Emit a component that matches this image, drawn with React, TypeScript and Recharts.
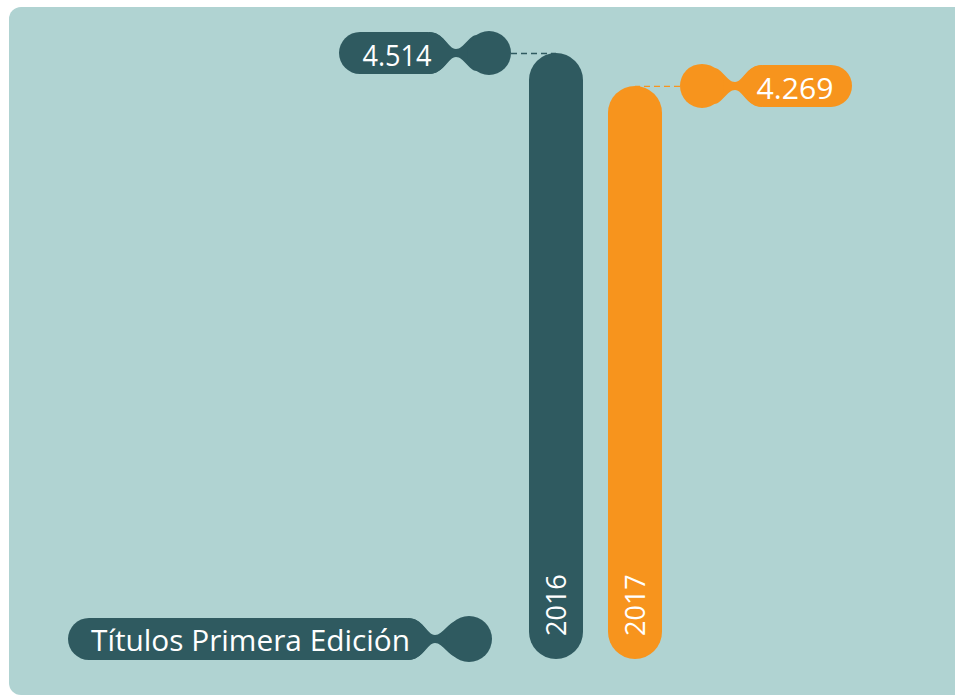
import React from 'react';
import { BarChart, Bar, XAxis, YAxis, Cell, LabelList } from 'recharts';

// valores
const years = ['2016', '2017'];
const titles = [4514, 4269];
const barColors = ['#2f5a60', '#f7941d'];
const seriesName = 'Títulos Primera Edición';

const data = years.map((year, i) => ({ year, value: titles[i] }));

const PANEL = '#b0d3d2';
const FONT = '"Open Sans", sans-serif';

const fmt = (v: number) => String(v).replace(/\B(?=(\d{3})+(?!\d))/g, '.');

// pastilla + cuello + círculo (s = lado hacia donde va la pastilla)
const Bubble = ({ cc, cy, s, pillLen, r, color }: any) => {
  const h2 = 21;
  const near = cc + s * (r + 18);
  const far = near + s * pillLen;
  const a = near + s * 20;
  const w = cc + s * (r + 11);
  const b = cc + s * 12;
  const d = [
    `M ${a} ${cy - h2}`,
    `C ${a - s * 15} ${cy - h2} ${w + s * 8} ${cy - 4} ${w} ${cy - 4}`,
    `C ${w - s * 8} ${cy - 4} ${b + s * 8} ${cy - h2 + 3} ${b} ${cy - h2 + 3}`,
    `L ${b} ${cy + h2 - 3}`,
    `C ${b + s * 8} ${cy + h2 - 3} ${w - s * 8} ${cy + 4} ${w} ${cy + 4}`,
    `C ${w + s * 8} ${cy + 4} ${a - s * 15} ${cy + h2} ${a} ${cy + h2}`,
    'Z',
  ].join(' ');
  return (
    <g>
      <rect x={Math.min(near, far)} y={cy - h2} width={pillLen} height={h2 * 2} rx={h2} fill={color} />
      <path d={d} fill={color} />
      <circle cx={cc} cy={cy} r={r} fill={color} />
    </g>
  );
};

const ValueLabel = (props: any) => {
  const { x, y, width, value, index } = props;
  const cx = x + width / 2;
  const s = index === 0 ? -1 : 1;
  const cc = cx + s * 67;
  const cy = y;
  const color = barColors[index];
  const pillLen = 110;
  const pillMid = cc + s * (22 + 18 + 55);
  return (
    <g>
      <line x1={cc - s * 22} y1={cy + 0.5} x2={cx} y2={cy + 0.5} stroke={color} strokeWidth={1.3} strokeDasharray="6 4" />
      <Bubble cc={cc} cy={cy} s={s} pillLen={pillLen} r={22} color={color} />
      <text x={pillMid + (s < 0 ? 3 : -2)} y={cy + 13} textAnchor="middle" fill="#fff" fontFamily={FONT} fontSize={30} textLength={index === 0 ? 69 : 77} lengthAdjust="spacingAndGlyphs">
        {fmt(value)}
      </text>
    </g>
  );
};

const YearLabel = (props: any) => {
  const { x, y, width, height, value } = props;
  const tx = x + width / 2 + 10;
  const ty = y + height - 23;
  return (
    <text x={tx} y={ty} transform={`rotate(-90 ${tx} ${ty})`} textAnchor="start" fill="#fff" fontFamily={FONT} fontSize={27}>
      {value}
    </text>
  );
};

const LegendBubble = () => (
  <g>
    <Bubble cc={469} cy={639} s={-1} pillLen={360} r={23} color={barColors[0]} />
    <text x={91} y={651} fill="#fff" fontFamily={FONT} fontSize={30} textLength={319} lengthAdjust="spacingAndGlyphs">
      {seriesName}
    </text>
  </g>
);

export default function App() {
  return (
    <div style={{ position: 'absolute', left: 0, top: 0, width: 955, height: 697, overflow: 'hidden', background: '#fff' }}>
      <div style={{ position: 'absolute', left: 9, top: 7, width: 970, height: 688, background: PANEL, borderRadius: 12 }} />
      <div style={{ position: 'absolute', left: 0, top: 0 }}>
        <BarChart width={955} height={697} data={data} margin={{ top: 53, right: 281, bottom: 38, left: 516 }} barCategoryGap={0}>
          <XAxis dataKey="year" hide />
          <YAxis hide domain={[0, 'dataMax']} />
          <Bar dataKey="value" name={seriesName} barSize={54} radius={27} isAnimationActive={false}>
            {data.map((d, i) => (
              <Cell key={d.year} fill={barColors[i]} />
            ))}
            <LabelList dataKey="year" content={YearLabel} />
            <LabelList dataKey="value" content={ValueLabel} />
          </Bar>
          <LegendBubble />
        </BarChart>
      </div>
    </div>
  );
}
